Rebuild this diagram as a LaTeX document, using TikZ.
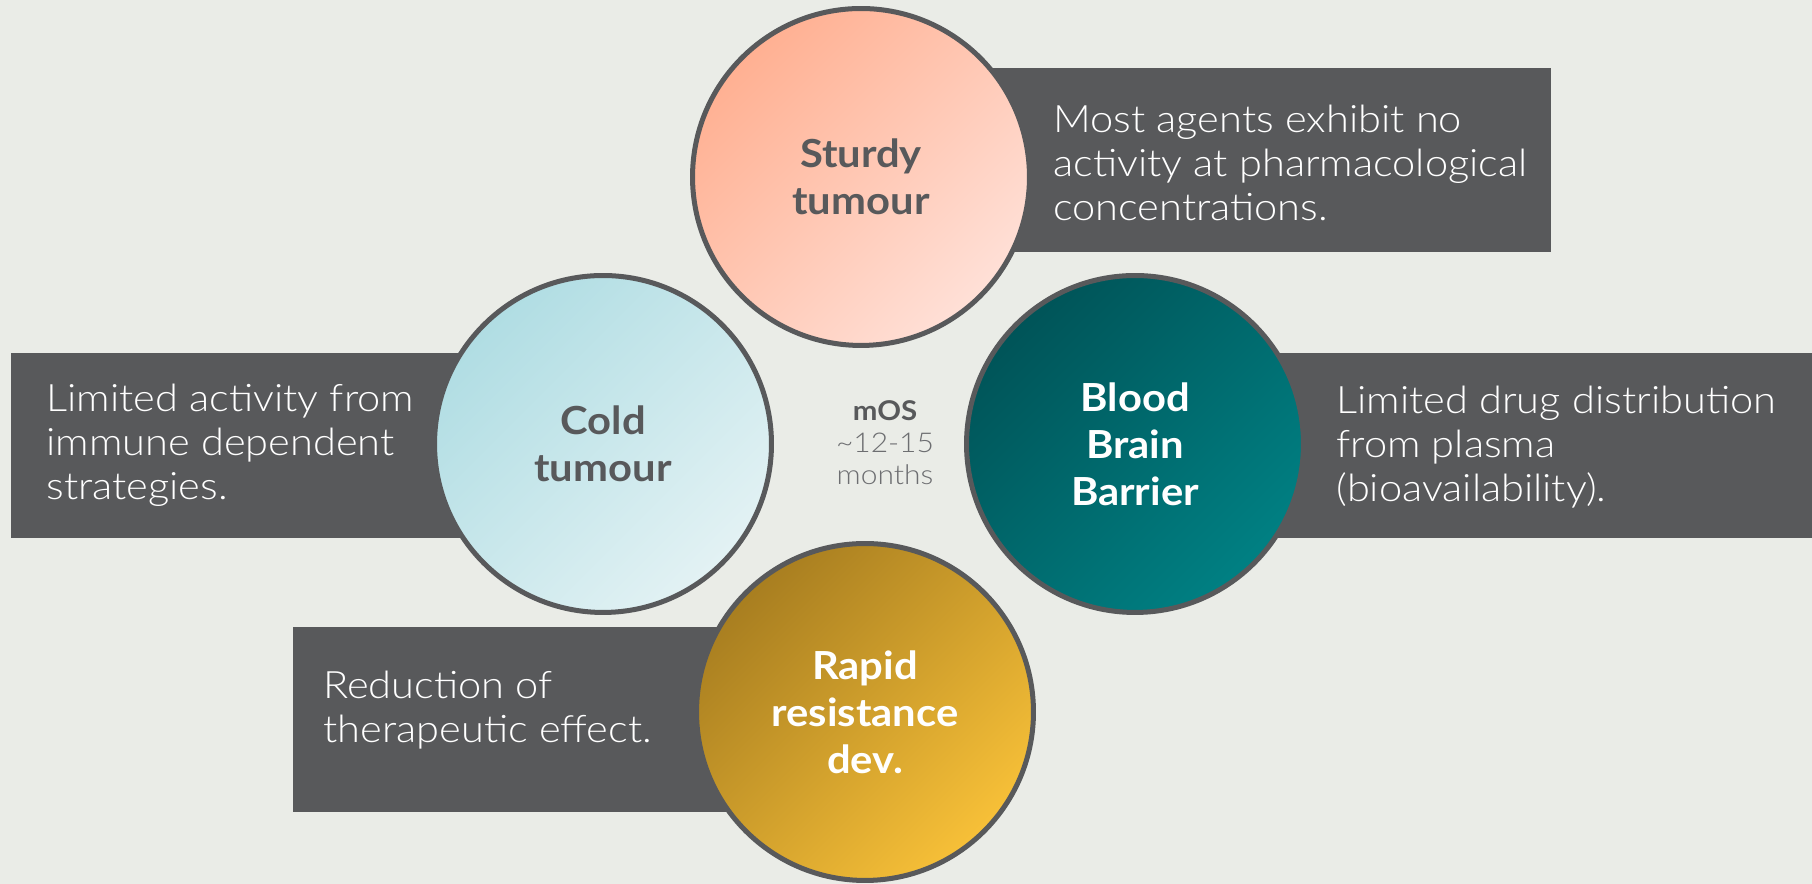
\documentclass[tikz,border=0pt]{standalone}
\usepackage{fontspec}
\setmainfont{Lato}[UprightFont=* Light,BoldFont=* Bold,
  UprightFeatures={FakeStretch=1.1},BoldFeatures={FakeStretch=1.08}]
\definecolor{bggrey}{HTML}{EAECE7}
\definecolor{boxgrey}{HTML}{58595B}
\definecolor{softgrey}{HTML}{6D6E71}
\definecolor{sturdyA}{HTML}{FFB092}
\definecolor{sturdyB}{HTML}{FFE0D7}
\definecolor{coldA}{HTML}{B0DDE3}
\definecolor{coldB}{HTML}{E3F2F4}
\definecolor{bbbA}{HTML}{005458}
\definecolor{bbbB}{HTML}{008083}
\definecolor{rapidA}{HTML}{A87E20}
\definecolor{rapidB}{HTML}{F7C038}
\begin{document}
\begin{tikzpicture}[x=0.02cm,y=0.02cm,
    disc/.style={circle,draw=boxgrey,line width=2.85pt,minimum size=6.74cm,
      align=center,font=\fontsize{22}{26.7}\selectfont\bfseries},
    shade disc/.style={top color=#1A,bottom color=#1B,shading angle=45},
    note/.style={anchor=west,align=left,text=white,inner sep=0pt,
      font=\fontsize{21.5}{25}\selectfont}]
  \fill[bggrey] (0,0) rectangle (1812,884);
  \fill[boxgrey] (860,632) rectangle (1551,816);
  \fill[boxgrey] (11,346) rectangle (603,531);
  \fill[boxgrey] (1135,346) rectangle (1812,531);
  \fill[boxgrey] (293,72) rectangle (865,257);
  \node[disc,shade disc=sturdy,text=boxgrey] (sturdy) at (861,707) {Sturdy\\tumour};
  \node[disc,shade disc=cold,text=boxgrey] (cold) at (603,440) {Cold\\tumour};
  \node[disc,shade disc=bbb,text=white] (bbb) at (1135,440) {Blood\\Brain\\Barrier};
  \node[disc,shade disc=rapid,text=white] (rapid) at (865,172) {Rapid\\resistance\\dev.};
  \node[note] (sturdynote) at (1053,721) {Most agents exhibit no\\activity at pharmacological\\concentrations.};
  \node[note] (coldnote) at (46,439) {Limited activity from\\immune dependent\\strategies.};
  \node[note] (bbbnote) at (1336,437) {Limited drug distribution\\from plasma\\(bioavailability).};
  \node[note] (rapidnote) at (323,174) {Reduction of\\therapeutic effect.};
  \node[align=center,text=softgrey,font=\fontsize{15.5}{18.2}\selectfont]
    (mos) at (885,441) {\textcolor{boxgrey}{\bfseries mOS}\\\textasciitilde12-15\\months};
\end{tikzpicture}
\end{document}
